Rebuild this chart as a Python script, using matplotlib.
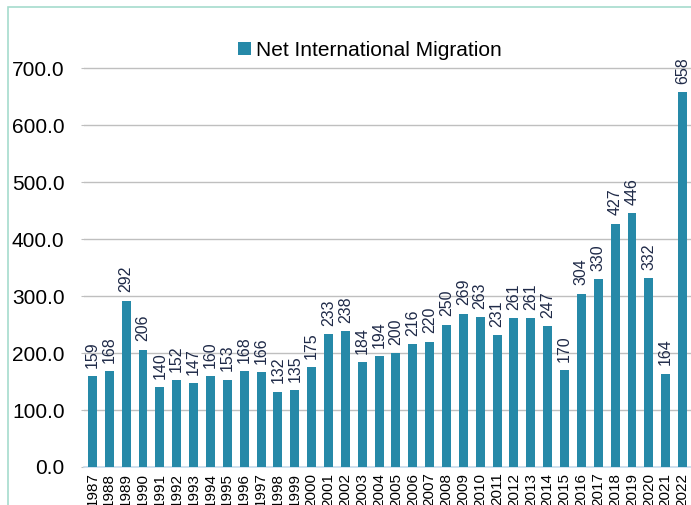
import matplotlib.pyplot as plt
from matplotlib.patches import Rectangle

plt.rcParams['font.family'] = ['Liberation Sans', 'DejaVu Sans']

years = [str(y) for y in range(1987, 2023)]
migration = [159, 168, 292, 206, 140, 152, 147, 160, 153, 168, 166, 132, 135, 175,
             233, 238, 184, 194, 200, 216, 220, 250, 269, 263, 231, 261, 261, 247,
             170, 304, 330, 427, 446, 332, 164, 658]
y_ticks = [0, 100, 200, 300, 400, 500, 600, 700]

bar_color = '#2689A8'
label_color = '#1F2A48'

fig = plt.figure(figsize=(6.91, 5.05), dpi=100)
ax = fig.add_axes([84 / 691, 38 / 505, 607 / 691, 433 / 505])

x = range(len(years))
bars = ax.bar(x, migration, width=0.53, color=bar_color, label='Net International Migration', zorder=3)

for xi, v in zip(x, migration):
    ax.annotate(f'{v}', (xi, v), xytext=(0, 6), textcoords='offset points',
                rotation=90, ha='center', va='bottom', fontsize=11.5, color=label_color)

ax.set_xlim(-0.5, len(years) - 0.5)
ax.set_ylim(0, 760)
ax.set_yticks(y_ticks)
ax.set_yticklabels([f'{t:.1f}' for t in y_ticks], fontsize=15)
ax.set_xticks(list(x))
ax.set_xticklabels(years, rotation=90, fontsize=11)
ax.tick_params(axis='y', length=2, color='#BFBFBF', pad=12)
ax.tick_params(axis='x', length=0, pad=4)

ax.yaxis.grid(True, color='#BFBFBF', linewidth=1, zorder=0)
for side in ['top', 'right', 'left']:
    ax.spines[side].set_visible(False)
ax.spines['bottom'].set_color('#C8DCEC')
ax.spines['bottom'].set_linewidth(1.2)

fig.legend(handles=[bars], labels=['Net International Migration'], loc='center',
           bbox_to_anchor=(370 / 691, 1 - 50 / 505), frameon=False, fontsize=15,
           handlelength=0.6, handleheight=0.6, handletextpad=0.25)

# outer frame of the original chart
fig.patches.append(Rectangle((8 / 691, -0.1), 1.2, 1 - 7 / 505 + 0.1, transform=fig.transFigure,
                             fill=False, edgecolor='#A6DCCD', linewidth=1.2))

fig.savefig('out.png', dpi=100)
